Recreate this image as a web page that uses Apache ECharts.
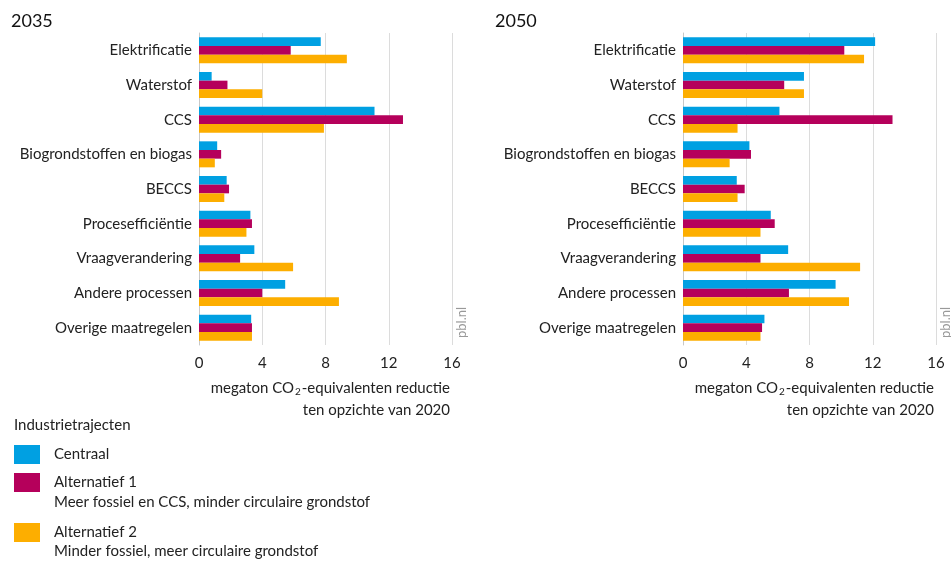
<!DOCTYPE html>
<html>
<head>
<meta charset="utf-8">
<script src="https://cdn.jsdelivr.net/npm/echarts@6/dist/echarts.min.js"></script>
<style>
html,body{margin:0;padding:0;background:#fff;}
#c{width:951px;height:561px;}
</style>
</head>
<body>
<div id="c"></div>
<script>
var categories = ['Elektrificatie','Waterstof','CCS','Biogrondstoffen en biogas','BECCS','Procesefficiëntie','Vraagverandering','Andere processen','Overige maatregelen'];
var seriesNames = ['Centraal','Alternatief 1','Alternatief 2'];
var seriesNotes = ['', 'Meer fossiel en CCS, minder circulaire grondstof', 'Minder fossiel, meer circulaire grondstof'];
var centraal2035 = [7.7, 0.8, 11.1, 1.15, 1.75, 3.25, 3.5, 5.45, 3.3];
var alt1_2035    = [5.8, 1.8, 12.9, 1.4, 1.9, 3.35, 2.6, 4.0, 3.35];
var alt2_2035    = [9.35, 4.0, 7.9, 1.0, 1.6, 3.0, 5.95, 8.85, 3.35];
var centraal2050 = [12.15, 7.65, 6.1, 4.2, 3.4, 5.55, 6.65, 9.65, 5.15];
var alt1_2050    = [10.2, 6.4, 13.25, 4.3, 3.9, 5.8, 4.9, 6.7, 5.0];
var alt2_2050    = [11.45, 7.65, 3.45, 2.95, 3.45, 4.9, 11.2, 10.5, 4.9];
var xTicks = [0, 4, 8, 12, 16];
var panelTitles = ['2035', '2050'];
var colors = ['#00a0e2', '#b5005b', '#fdae00'];
var FONT = 'Lato, "Open Sans", sans-serif';

var chart = echarts.init(document.getElementById('c'));

function xAxisFor(gi){
  return {
    gridIndex: gi, type: 'value', min: xTicks[0], max: xTicks[xTicks.length-1], interval: 4,
    axisLine: {show: false}, axisTick: {show: false},
    splitLine: {show: true, lineStyle: {color: '#dcdcdc', width: 1}},
    axisLabel: {color: '#222', fontSize: 15, fontFamily: FONT, margin: 11,
      formatter: function(v){ return xTicks.indexOf(v) >= 0 ? String(v) : ''; }},
    name: '{a|megaton CO}{s|2}{a|-equivalenten reductie}\n{a|ten opzichte van 2020}',
    nameLocation: 'end', nameGap: -2,
    nameTextStyle: {align: 'right', verticalAlign: 'top', padding: [32, 0, 0, 0],
      rich: {
        a: {fontSize: 15, fontFamily: FONT, color: '#222', lineHeight: 22},
        s: {fontSize: 10, fontFamily: FONT, color: '#222', lineHeight: 22, padding: [8, 1, 0, 1]}
      }}
  };
}
function yAxisFor(gi){
  return {
    gridIndex: gi, type: 'category', data: categories, inverse: true,
    axisLine: {show: true, lineStyle: {color: '#c8c8c8', width: 1}},
    axisTick: {show: false},
    axisLabel: {color: '#222', fontSize: 15, fontFamily: FONT, margin: 7}
  };
}
function bars(gi, data, idx){
  return {
    type: 'bar', name: seriesNames[idx], xAxisIndex: gi, yAxisIndex: gi, data: data,
    itemStyle: {color: colors[idx]}, barGap: '0%', barCategoryGap: '25%', silent: true
  };
}
function legendFor(idx, top){
  return {
    data: [seriesNames[idx]], left: 14, top: top, orient: 'vertical', padding: 0,
    itemWidth: 26, itemHeight: 19, icon: 'rect', selectedMode: false,
    textStyle: {fontSize: 15, fontFamily: FONT, color: '#222', padding: [0, 0, 0, 9], lineHeight: 19}
  };
}

chart.setOption({
  animation: false,
  color: colors,
  grid: [
    {left: 199, width: 253, top: 33, height: 312},
    {left: 683, width: 253, top: 33, height: 312}
  ],
  xAxis: [xAxisFor(0), xAxisFor(1)],
  yAxis: [yAxisFor(0), yAxisFor(1)],
  legend: [legendFor(0, 445), legendFor(1, 473), legendFor(2, 523)],
  graphic: [
    {type: 'text', left: 11, top: 12, style: {text: panelTitles[0], font: '18px ' + FONT, fill: '#111'}},
    {type: 'text', left: 495, top: 12, style: {text: panelTitles[1], font: '18px ' + FONT, fill: '#111'}},
    {type: 'text', x: 462, y: 338, rotation: Math.PI / 2, style: {text: 'pbl.nl', font: '13px ' + FONT, fill: '#999', textVerticalAlign: 'middle'}},
    {type: 'text', x: 946, y: 338, rotation: Math.PI / 2, style: {text: 'pbl.nl', font: '13px ' + FONT, fill: '#999', textVerticalAlign: 'middle'}},
    {type: 'text', left: 14, top: 418, style: {text: 'Industrietrajecten', font: '15px ' + FONT, fill: '#222'}},
    {type: 'text', left: 54, top: 495, style: {text: seriesNotes[1], font: '15px ' + FONT, fill: '#222'}},
    {type: 'text', left: 54, top: 544, style: {text: seriesNotes[2], font: '15px ' + FONT, fill: '#222'}}
  ],
  series: [
    bars(0, centraal2035, 0), bars(0, alt1_2035, 1), bars(0, alt2_2035, 2),
    bars(1, centraal2050, 0), bars(1, alt1_2050, 1), bars(1, alt2_2050, 2)
  ]
});
</script>
</body>
</html>
